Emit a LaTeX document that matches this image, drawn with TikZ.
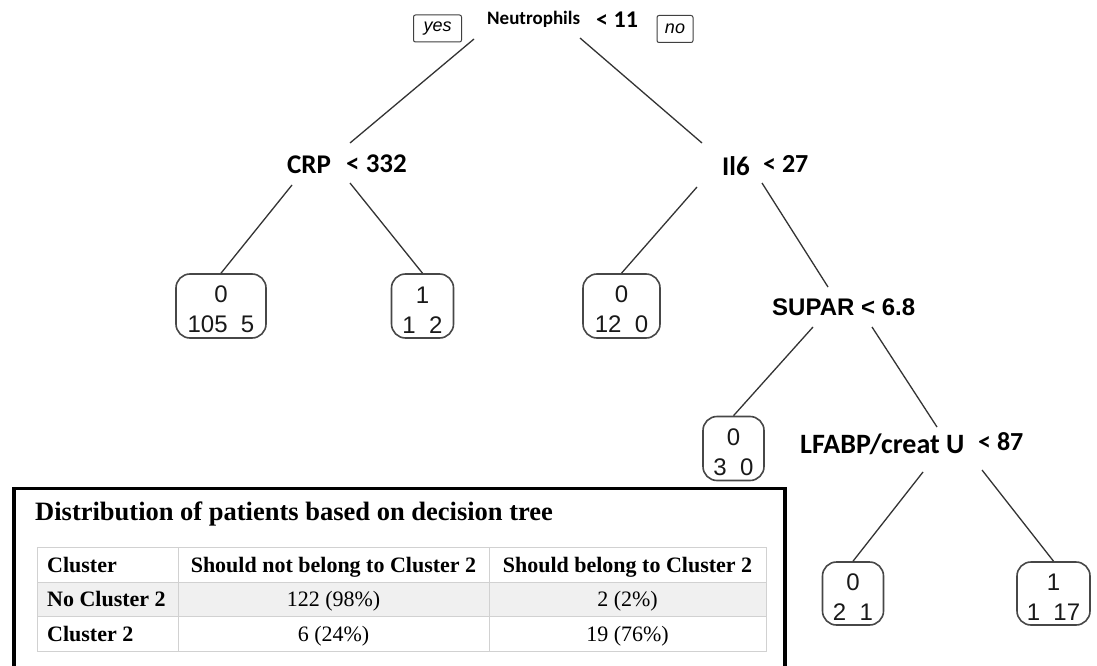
\documentclass[tikz,border=0pt]{standalone}
\usepackage{fontspec}
\setmainfont{Liberation Serif}
\newfontfamily\arialf{Liberation Sans}
\newfontfamily\calf{Carlito}
\begin{document}
\begin{tikzpicture}[x=1pt,y=-1pt,
  splitlab/.style={inner sep=0pt, anchor=base west, text=black},
  calbig/.style={font=\calf\bfseries\fontsize{27}{30}\selectfont},
  leafbox/.style={draw=black!72, line width=1.6pt, rounded corners=14pt,
    font=\arialf\fontsize{24}{30}\selectfont, align=center, inner sep=0pt,
    minimum height=64pt, text=black!90},
  treeedge/.style={draw=black!80, line width=1.3pt},
  ynbox/.style={draw=black!75, line width=1pt, rounded corners=2pt,
    font=\arialf\itshape\fontsize{18}{20}\selectfont, inner sep=0pt,
    minimum height=27pt},
  gridline/.style={draw=black!18, line width=1pt},
  hdr/.style={font=\bfseries\fontsize{22}{24}\selectfont, inner sep=0pt},
  val/.style={font=\fontsize{22}{24}\selectfont, inner sep=0pt, anchor=base}
]
\useasboundingbox (0,0) rectangle (1097,666);
\fill[white] (0,0) rectangle (1097,666);

% ---------- split labels ----------
\node[splitlab, font=\calf\bfseries\fontsize{19}{22}\selectfont] (root) at (487,25) {Neutrophils};
\node[splitlab, font=\calf\bfseries\fontsize{24}{26}\selectfont] (rootv) at (596,28) {< 11};
\node[ynbox, minimum width=48pt] (yes) at (437.5,28.5) {yes};
\node[ynbox, minimum width=36pt] (no) at (675,29) {no};

\node[splitlab, calbig] (crp) at (287,173) {CRP};
\node[splitlab, calbig] (crpv) at (346,172) {< 332};
\node[splitlab, calbig] (il6) at (722,175) {Il6};
\node[splitlab, font=\calf\bfseries\fontsize{26}{28}\selectfont] (il6v) at (763,172) {< 27};
\node[splitlab, font=\arialf\bfseries\fontsize{24}{26}\selectfont] (supar) at (772,315) {SUPAR < 6.8};
\node[splitlab, font=\calf\bfseries\fontsize{28}{30}\selectfont] (lfabp) at (800,453) {LFABP/creat U};
\node[splitlab, font=\calf\bfseries\fontsize{26}{28}\selectfont] (lfabpv) at (978,450) {< 87};

% ---------- leaves ----------
\node[leafbox, minimum width=90pt] (l1) at (221,306) {\rule{0pt}{24pt}0\\105\ \ 5};
\node[leafbox, minimum width=62pt] (l2) at (422.5,306) {\rule{0pt}{24pt}1\\1\ \ 2};
\node[leafbox, minimum width=77pt] (l3) at (621.5,306) {\rule{0pt}{24pt}0\\12\ \ 0};
\node[leafbox, minimum width=61pt] (l4) at (733.5,448.5) {\rule{0pt}{24pt}0\\3\ \ 0};
\node[leafbox, minimum width=61pt, minimum height=63pt] (l5) at (853,593.5) {\rule{0pt}{24pt}0\\2\ \ 1};
\node[leafbox, minimum width=73pt, minimum height=63pt] (l6) at (1053.5,593.5) {\rule{0pt}{24pt}1\\1\ \ 17};

% ---------- connector end points ----------
\coordinate (rootL) at (474,39);
\coordinate (rootR) at (580,38);
\coordinate (crpIn) at (350,143);
\coordinate (il6In) at (702,143);
\coordinate (crpL) at (292,185);
\coordinate (crpR) at (350,183);
\coordinate (il6L) at (697,187);
\coordinate (il6R) at (762,183);
\coordinate (suparIn) at (828,287);
\coordinate (suparL) at (813,327);
\coordinate (suparR) at (872,327);
\coordinate (lfabpIn) at (937,427);
\coordinate (lfabpL) at (923,472);
\coordinate (lfabpR) at (982,470);

\draw[treeedge] (rootL) -- (crpIn);
\draw[treeedge] (rootR) -- (il6In);
\draw[treeedge] (crpL) -- (l1.north);
\draw[treeedge] (crpR) -- (l2.north);
\draw[treeedge] (il6L) -- (l3.north);
\draw[treeedge] (il6R) -- (suparIn);
\draw[treeedge] (suparL) -- (l4.north);
\draw[treeedge] (suparR) -- (lfabpIn);
\draw[treeedge] (lfabpL) -- (l5.north);
\draw[treeedge] (lfabpR) -- (l6.north);

% ---------- table panel ----------
\fill[white] (14,488.5) rectangle (785,666);
\draw[line width=3.5pt, black] (14,672) -- (14,488.5) -- (785,488.5) -- (785,672);
\node[inner sep=0pt, anchor=base west, font=\bfseries\fontsize{26.5}{28}\selectfont] (title) at (35,520) {Distribution of patients based on decision tree};

\fill[black!6] (37,582) rectangle (766,616);
\draw[gridline] (37,547) rectangle (766,651);
\draw[gridline] (37,582) -- (766,582);
\draw[gridline] (37,616) -- (766,616);
\draw[gridline] (178,547) -- (178,651);
\draw[gridline] (489,547) -- (489,651);

\node[hdr, anchor=base west] (h1) at (47,572) {Cluster};
\node[hdr, anchor=base] (h2) at (333.5,572) {Should not belong to Cluster 2};
\node[hdr, anchor=base] (h3) at (627.5,572) {Should belong to Cluster 2};
\node[hdr, anchor=base west] (r1) at (47,606) {No Cluster 2};
\node[val] (r1a) at (333.5,606) {122 (98\%)};
\node[val] (r1b) at (627.5,606) {2 (2\%)};
\node[hdr, anchor=base west] (r2) at (47,641) {Cluster 2};
\node[val] (r2a) at (333.5,641) {6 (24\%)};
\node[val] (r2b) at (627.5,641) {19 (76\%)};
\end{tikzpicture}
\end{document}
